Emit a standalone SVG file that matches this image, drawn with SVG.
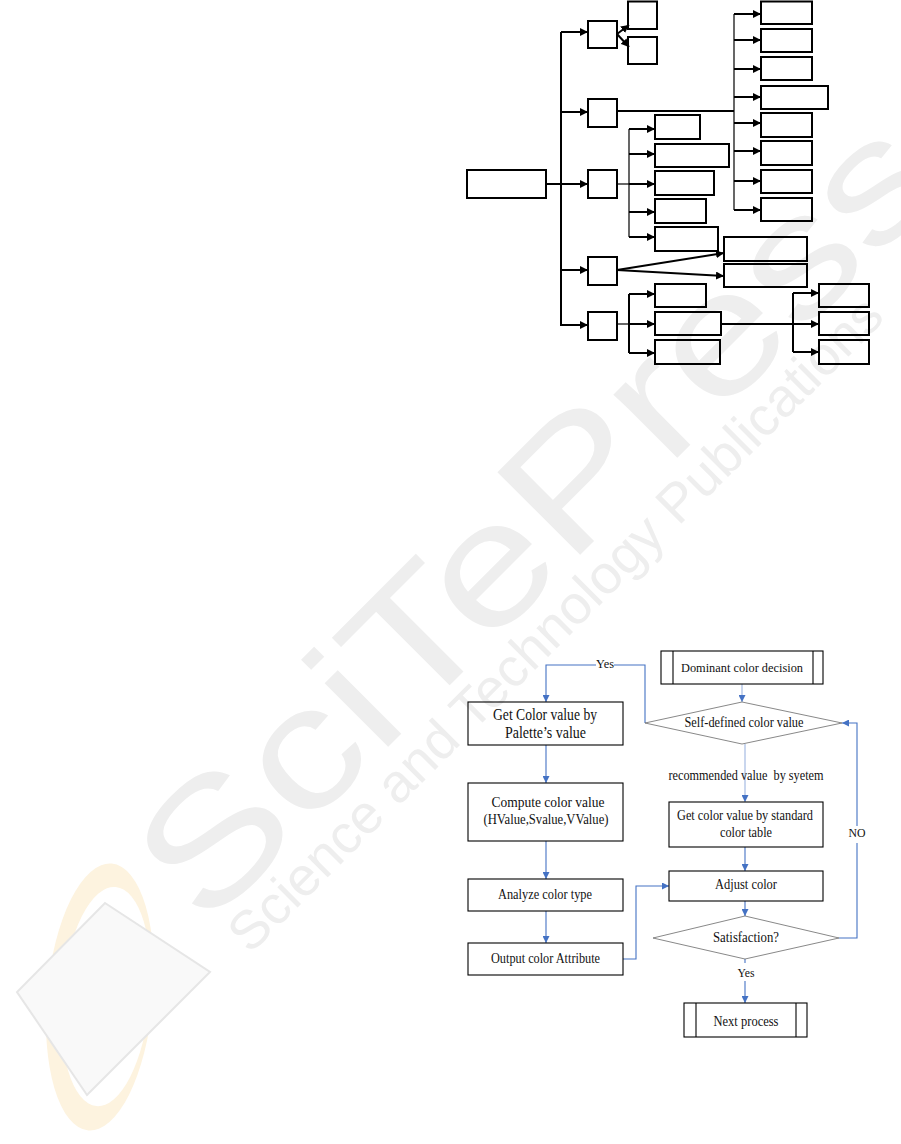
<svg xmlns="http://www.w3.org/2000/svg" width="901" height="1144" viewBox="0 0 901 1144">
<style>
.tb{fill:none;stroke:#000;stroke-width:2}
.tl{fill:none;stroke:#000;stroke-width:2}
.tt{fill:none;stroke:#000;stroke-width:1.2}
.fb{fill:none;stroke:#000;stroke-width:1.1}
.fd{fill:none;stroke:#6a6a6a;stroke-width:0.8}
.bl{fill:none;stroke:#4472C4;stroke-width:1.1}
.bf{fill:none;stroke:#9DB5E0;stroke-width:1.1}
.t{font-family:"Liberation Serif","Times New Roman",serif;fill:#111;text-anchor:middle}
.wm{font-family:"Liberation Sans",Arial,sans-serif;fill:#eeeeee}
</style>
<defs>
<marker id="ah" viewBox="0 0 8 8" refX="8" refY="4" markerWidth="8" markerHeight="8" markerUnits="userSpaceOnUse" orient="auto"><path d="M0,0 L8,4 L0,8 z" fill="#000"/></marker>
<marker id="bh" viewBox="0 0 8 8" refX="8" refY="4" markerWidth="7" markerHeight="7" markerUnits="userSpaceOnUse" orient="auto"><path d="M0,0 L8,4 L0,8 z" fill="#4472C4"/></marker>
</defs>
<rect width="901" height="1144" fill="#fff"/>
<g id="watermark">
<path d="M47,997 a53,134 0 1,0 106,0 a53,134 0 1,0 -106,0 Z M62,996 a44,110 0 1,0 88,0 a44,110 0 1,0 -88,0 Z" fill="#fdf3df" fill-rule="evenodd" transform="rotate(5 100 997)"/>
<polygon points="105,903 210,972 87,1095 17,992" fill="#f9f9f9" stroke="#e6e6e6" stroke-width="2"/>
<text class="wm" transform="translate(205,930) rotate(-45)" font-size="170" textLength="1050" lengthAdjust="spacingAndGlyphs">SciTePress</text>
<text class="wm" transform="translate(250,955) rotate(-45)" font-size="54" textLength="900" lengthAdjust="spacingAndGlyphs">Science and Technology Publications</text>
</g>
<g id="tree-connectors">
<line class="tl" x1="561" y1="32" x2="561" y2="326"/>
<line class="tl" x1="546" y1="184" x2="561" y2="184"/>
<line class="tl" x1="561" y1="32" x2="588" y2="32" marker-end="url(#ah)"/>
<line class="tl" x1="561" y1="112" x2="588" y2="112" marker-end="url(#ah)"/>
<line class="tl" x1="561" y1="184" x2="588" y2="184" marker-end="url(#ah)"/>
<line class="tl" x1="561" y1="270" x2="588" y2="270" marker-end="url(#ah)"/>
<line class="tl" x1="561" y1="325" x2="588" y2="325" marker-end="url(#ah)"/>
<line class="tl" x1="617" y1="34" x2="629" y2="25" marker-end="url(#ah)"/>
<line class="tl" x1="617" y1="34" x2="629" y2="47" marker-end="url(#ah)"/>
<line class="tl" x1="616" y1="111" x2="734" y2="111"/>
<line class="tt" x1="734" y1="14" x2="734" y2="210"/>
<line class="tl" x1="734" y1="14" x2="761" y2="14" marker-end="url(#ah)"/>
<line class="tl" x1="734" y1="40" x2="761" y2="40" marker-end="url(#ah)"/>
<line class="tl" x1="734" y1="69" x2="761" y2="69" marker-end="url(#ah)"/>
<line class="tl" x1="734" y1="97" x2="761" y2="97" marker-end="url(#ah)"/>
<line class="tl" x1="734" y1="123" x2="761" y2="123" marker-end="url(#ah)"/>
<line class="tl" x1="734" y1="151" x2="761" y2="151" marker-end="url(#ah)"/>
<line class="tl" x1="734" y1="181" x2="761" y2="181" marker-end="url(#ah)"/>
<line class="tl" x1="734" y1="210" x2="761" y2="210" marker-end="url(#ah)"/>
<line class="tt" x1="616" y1="184" x2="629" y2="184"/>
<line class="tt" x1="629" y1="129" x2="629" y2="237"/>
<line class="tl" x1="629" y1="129" x2="655" y2="129" marker-end="url(#ah)"/>
<line class="tl" x1="629" y1="154" x2="655" y2="154" marker-end="url(#ah)"/>
<line class="tl" x1="629" y1="184" x2="655" y2="184" marker-end="url(#ah)"/>
<line class="tl" x1="629" y1="212" x2="655" y2="212" marker-end="url(#ah)"/>
<line class="tl" x1="629" y1="237" x2="655" y2="237" marker-end="url(#ah)"/>
<line class="tl" x1="617" y1="270" x2="724" y2="253" marker-end="url(#ah)"/>
<line class="tl" x1="617" y1="270" x2="724" y2="276" marker-end="url(#ah)"/>
<line class="tt" x1="616" y1="324" x2="629" y2="324"/>
<line class="tl" x1="629" y1="294" x2="629" y2="353"/>
<line class="tl" x1="629" y1="294" x2="655" y2="294" marker-end="url(#ah)"/>
<line class="tl" x1="629" y1="324" x2="655" y2="324" marker-end="url(#ah)"/>
<line class="tl" x1="629" y1="353" x2="655" y2="353" marker-end="url(#ah)"/>
<line class="tl" x1="721" y1="324" x2="793" y2="324"/>
<line class="tl" x1="793" y1="293" x2="793" y2="352"/>
<line class="tl" x1="793" y1="293" x2="819" y2="293" marker-end="url(#ah)"/>
<line class="tl" x1="793" y1="324" x2="819" y2="324" marker-end="url(#ah)"/>
<line class="tl" x1="793" y1="352" x2="819" y2="352" marker-end="url(#ah)"/>
</g>
<g id="tree-root"><rect class="tb" x="467" y="170" width="79" height="28"/></g>
<g id="tree-a"><rect class="tb" x="588" y="21" width="29" height="27"/></g>
<g id="tree-a1"><rect class="tb" x="628" y="1.5" width="29" height="27.5"/></g>
<g id="tree-a2"><rect class="tb" x="628" y="37" width="29" height="27"/></g>
<g id="tree-b"><rect class="tb" x="588" y="99" width="29" height="28"/></g>
<g id="tree-b1"><rect class="tb" x="761" y="1.5" width="51" height="22.5"/></g>
<g id="tree-b2"><rect class="tb" x="761" y="29" width="51" height="23"/></g>
<g id="tree-b3"><rect class="tb" x="761" y="57" width="51" height="23"/></g>
<g id="tree-b4"><rect class="tb" x="761" y="86" width="67" height="23"/></g>
<g id="tree-b5"><rect class="tb" x="761" y="113" width="51" height="24"/></g>
<g id="tree-b6"><rect class="tb" x="761" y="141" width="51" height="24"/></g>
<g id="tree-b7"><rect class="tb" x="761" y="170" width="51" height="23"/></g>
<g id="tree-b8"><rect class="tb" x="761" y="198" width="51" height="23"/></g>
<g id="tree-c"><rect class="tb" x="588" y="170" width="29" height="28"/></g>
<g id="tree-c1"><rect class="tb" x="655" y="115" width="45" height="24"/></g>
<g id="tree-c2"><rect class="tb" x="655" y="144" width="74" height="23"/></g>
<g id="tree-c3"><rect class="tb" x="655" y="171" width="59" height="24"/></g>
<g id="tree-c4"><rect class="tb" x="655" y="199" width="51" height="24"/></g>
<g id="tree-c5"><rect class="tb" x="655" y="227" width="63" height="24"/></g>
<g id="tree-d"><rect class="tb" x="588" y="257" width="29" height="28"/></g>
<g id="tree-d1"><rect class="tb" x="724" y="237" width="83" height="24"/></g>
<g id="tree-d2"><rect class="tb" x="724" y="264" width="83" height="23"/></g>
<g id="tree-e"><rect class="tb" x="588" y="312" width="29" height="28"/></g>
<g id="tree-e1"><rect class="tb" x="655" y="284" width="51" height="23"/></g>
<g id="tree-e2"><rect class="tb" x="655" y="312" width="66" height="23"/></g>
<g id="tree-e3"><rect class="tb" x="655" y="340" width="65" height="24"/></g>
<g id="tree-f1"><rect class="tb" x="819" y="284" width="50" height="23"/></g>
<g id="tree-f2"><rect class="tb" x="819" y="312" width="50" height="23"/></g>
<g id="tree-f3"><rect class="tb" x="819" y="340" width="50" height="24"/></g>

<g id="flow-connectors">
<line class="bf" x1="742" y1="684" x2="742" y2="702" marker-end="url(#bh)"/>
<line class="bf" x1="745" y1="744" x2="745" y2="802" marker-end="url(#bh)"/>
<polyline class="bl" points="645,723 645,665 614,665"/>
<polyline class="bl" points="596,665 546,665 546,702" marker-end="url(#bh)"/>
<line class="bl" x1="546" y1="745" x2="546" y2="783" marker-end="url(#bh)"/>
<line class="bl" x1="546" y1="841" x2="546" y2="879" marker-end="url(#bh)"/>
<line class="bl" x1="546" y1="911" x2="546" y2="943" marker-end="url(#bh)"/>
<polyline class="bl" points="623,959 636,959 636,886 669,886" marker-end="url(#bh)"/>
<line class="bl" x1="745" y1="847" x2="745" y2="871" marker-end="url(#bh)"/>
<line class="bl" x1="745" y1="901" x2="745" y2="916" marker-end="url(#bh)"/>
<polyline class="bl" points="839,938 857,938 857,843"/>
<polyline class="bl" points="857,826 857,723 842,723" marker-end="url(#bh)"/>
<line class="bl" x1="745" y1="959" x2="745" y2="963"/>
<line class="bl" x1="745" y1="981" x2="745" y2="1003" marker-end="url(#bh)"/>
<text class="t" x="605" y="668" font-size="13" textLength="18" lengthAdjust="spacingAndGlyphs">Yes</text>
<text class="t" x="746" y="780" font-size="14" textLength="155" lengthAdjust="spacingAndGlyphs" style="white-space:pre">recommended value  by syetem</text>
<text class="t" x="857" y="837" font-size="13" textLength="17" lengthAdjust="spacingAndGlyphs">NO</text>
<text class="t" x="746" y="977" font-size="13" textLength="17" lengthAdjust="spacingAndGlyphs">Yes</text>
</g>
<g id="flow-dominant">
<rect class="fb" x="661" y="651" width="162" height="33"/>
<line class="fb" x1="673" y1="651" x2="673" y2="684"/>
<line class="fb" x1="813" y1="651" x2="813" y2="684"/>
<text class="t" x="742" y="672" font-size="13.5" textLength="122" lengthAdjust="spacingAndGlyphs">Dominant color decision</text>
</g>
<g id="flow-selfdefined">
<polygon class="fd" points="742,702 842,723 742,744 645,723"/>
<text class="t" x="744" y="727" font-size="14" textLength="119" lengthAdjust="spacingAndGlyphs">Self-defined color value</text>
</g>
<g id="flow-palette">
<rect class="fb" x="468" y="702" width="155" height="43"/>
<text class="t" x="545" y="720" font-size="16.5" textLength="104" lengthAdjust="spacingAndGlyphs">Get Color value by</text>
<text class="t" x="545.5" y="738" font-size="16.5" textLength="81" lengthAdjust="spacingAndGlyphs">Palette’s value</text>
</g>
<g id="flow-compute">
<rect class="fb" x="468" y="783" width="155" height="58"/>
<text class="t" x="548" y="807" font-size="15" textLength="113" lengthAdjust="spacingAndGlyphs">Compute color value</text>
<text class="t" x="546" y="824" font-size="15" textLength="125" lengthAdjust="spacingAndGlyphs">(HValue,Svalue,VValue)</text>
</g>
<g id="flow-analyze">
<rect class="fb" x="468" y="879" width="155" height="32"/>
<text class="t" x="545" y="899" font-size="15" textLength="94" lengthAdjust="spacingAndGlyphs">Analyze color type</text>
</g>
<g id="flow-output">
<rect class="fb" x="468" y="943" width="155" height="32"/>
<text class="t" x="545.5" y="963" font-size="15" textLength="109" lengthAdjust="spacingAndGlyphs">Output color Attribute</text>
</g>
<g id="flow-standard">
<rect class="fb" x="669" y="802" width="154" height="45"/>
<text class="t" x="745" y="820" font-size="14" textLength="136" lengthAdjust="spacingAndGlyphs">Get color value by standard</text>
<text class="t" x="746" y="837" font-size="14" textLength="52" lengthAdjust="spacingAndGlyphs">color table</text>
</g>
<g id="flow-adjust">
<rect class="fb" x="669" y="871" width="154" height="30"/>
<text class="t" x="746" y="889" font-size="15" textLength="62" lengthAdjust="spacingAndGlyphs">Adjust color</text>
</g>
<g id="flow-satisfaction">
<polygon class="fd" points="745,916 839,938 745,959 653,938"/>
<text class="t" x="746" y="942" font-size="15" textLength="66" lengthAdjust="spacingAndGlyphs">Satisfaction?</text>
</g>
<g id="flow-next">
<rect class="fb" x="684" y="1003" width="123" height="34"/>
<line class="fb" x1="696" y1="1003" x2="696" y2="1037"/>
<line class="fb" x1="796" y1="1003" x2="796" y2="1037"/>
<text class="t" x="746" y="1026" font-size="15" textLength="65" lengthAdjust="spacingAndGlyphs">Next process</text>
</g>
</svg>
